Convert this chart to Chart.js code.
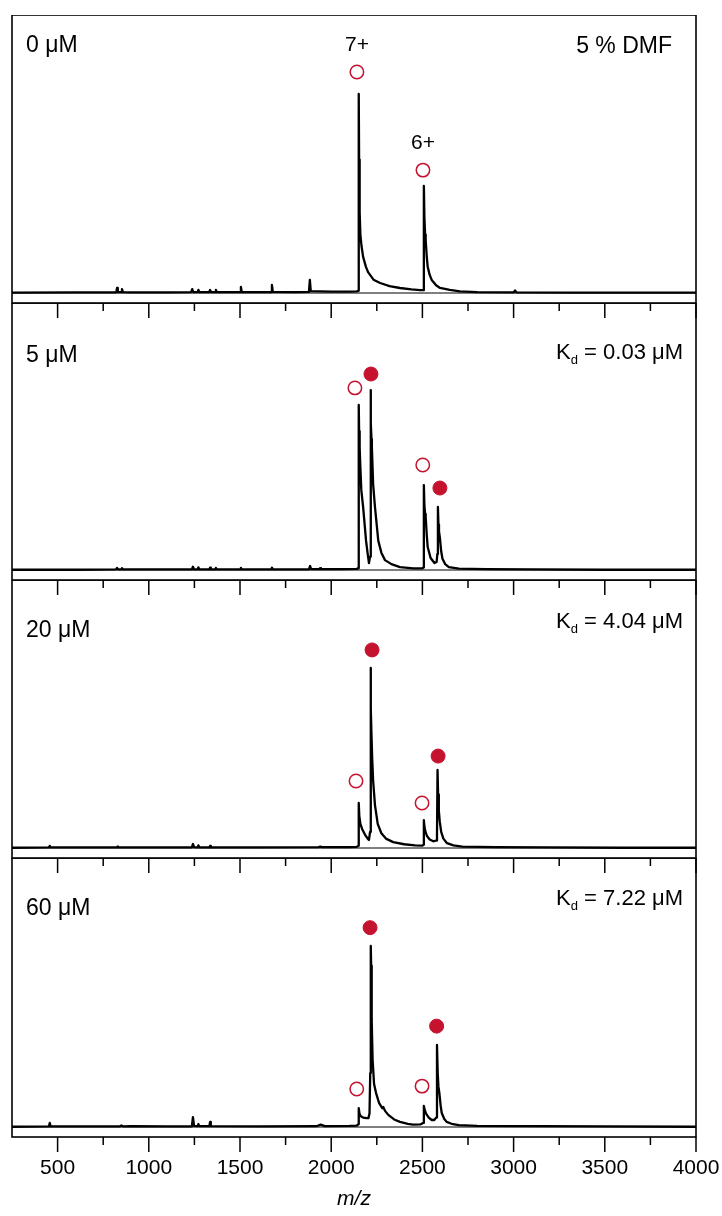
<!DOCTYPE html>
<html><head><meta charset="utf-8">
<script src="https://cdn.jsdelivr.net/npm/chart.js@4.4.1/dist/chart.umd.min.js"></script>
<style>
html,body{margin:0;padding:0;background:#fff;}
body{width:722px;height:1216px;position:relative;overflow:hidden;}
.p{position:absolute;left:0;}
canvas{display:block;}
</style></head><body>
<div class="p" id="w0"><canvas id="c0"></canvas></div>
<div class="p" id="w1"><canvas id="c1"></canvas></div>
<div class="p" id="w2"><canvas id="c2"></canvas></div>
<div class="p" id="w3"><canvas id="c3"></canvas></div>
<script>
// ---------------- DATA ----------------
const xMin = 250, xMax = 4000;
const xTicksMajor = [500,1000,1500,2000,2500,3000,3500,4000];
const xTicksMinor = [750,1250,1750,2250,2750,3250,3750];
const xTickLabels = ['500','1000','1500','2000','2500','3000','3500','4000'];
const xTitle = 'm/z';
const concLabels = ['0 μM','5 μM','20 μM','60 μM'];
const kdValues = [null,'0.03','4.04','7.22'];
const solventLabel = '5 % DMF';
const chargeLabels = ['7+','6+'];
const chargeLabelMz = [2141,2503];
const chargeLabelInt = [89.9,54.7];

// panel 1: 0 uM
const mz0  = [250,600,815,822,826,830,848,853,858,900,1100,1232,1238,1244,1268,1272,1276,1330,1336,1342,1364,1368,1372,1500,1505,1510,1670,1675,1680,1800,1878,1883,1888,2000,2100,2140,2148,2151,2153,2156,2160,2166,2175,2190,2202,2232,2268,2320,2377,2440,2487,2504,2508,2511,2515,2518,2524,2529,2540,2551,2575,2597,2650,2706,2800,3000,3008,3016,3300,3600,4000];
const int0 = [0.1,0.2,0.2,0.3,1.8,0.3,0.3,1.4,0.3,0.2,0.2,0.3,1.4,0.3,0.3,1.1,0.3,0.3,1.1,0.3,0.3,1.1,0.3,0.3,2.2,0.3,0.3,2.9,0.4,0.3,0.4,4.7,0.7,0.5,0.5,0.6,0.8,71.6,48,29,21,17,13,9.5,7.5,4.8,3.6,2.5,1.8,1.3,1.0,1.0,38.5,27,21,19,13,9.4,6.5,4.7,2.8,1.8,1.1,0.6,0.3,0.2,0.9,0.2,0.1,0.1,0.1];
const apoMz0 = [2141,2503];
const apoInt0 = [79.5,44.2];
const boundMz0 = [];
const boundInt0 = [];

// panel 2: 5 uM
const mz1  = [250,600,820,826,832,848,853,858,1000,1236,1242,1248,1268,1272,1276,1332,1336,1340,1364,1368,1372,1500,1505,1510,1670,1675,1680,1878,1884,1890,1935,1939,1944,2050,2140,2148,2151,2153,2156,2159,2165,2175,2191,2200,2207,2213,2216,2218,2221,2223,2230,2240,2258,2275,2295,2330,2377,2450,2500,2505,2508,2511,2515,2518,2524,2529,2545,2566,2578,2582,2585,2588,2591,2596,2603,2610,2625,2645,2700,2850,3100,3500,4000];
const int1 = [0.1,0.1,0.2,0.8,0.2,0.2,0.7,0.2,0.2,0.2,1.2,0.2,0.2,1.0,0.2,0.2,0.9,0.2,0.2,0.8,0.2,0.2,0.8,0.2,0.2,0.9,0.2,0.2,1.5,0.3,0.3,0.7,0.3,0.3,0.4,0.7,61.8,52,46,40,30,23.6,11,6,2.6,5,67.4,55,49,46,32,23.6,11,6.5,3.7,2.2,1.1,0.6,0.6,0.9,31.8,24,21,19.9,13,8.6,4.5,2.6,3.0,6,23.6,17,14.5,12,7,4.2,2.2,1.1,0.5,0.3,0.2,0.1,0.1];
const apoMz1 = [2130,2502];
const apoInt1 = [68.2,39.3];
const boundMz1 = [2218,2596];
const boundInt1 = [73.4,30.7];

// panel 3: 20 uM
const mz2  = [250,452,457,462,600,825,830,835,1000,1236,1242,1248,1268,1272,1276,1332,1336,1340,1600,1930,1940,1950,2100,2140,2148,2151,2154,2160,2170,2185,2200,2207,2213,2216,2218,2221,2225,2230,2240,2255,2275,2300,2340,2400,2460,2500,2505,2508,2511,2517,2525,2540,2560,2575,2580,2583,2586,2590,2595,2603,2615,2635,2670,2720,2900,3200,3600,4000];
const int2 = [0.1,0.2,0.8,0.2,0.2,0.2,0.6,0.2,0.2,0.2,1.5,0.3,0.2,1.0,0.2,0.2,0.8,0.2,0.2,0.3,0.5,0.3,0.3,0.4,0.8,16.8,12,9,7,5,3.5,3.0,6,67.2,52,42,33,25,16,9,5.5,3.5,2.2,1.4,1.0,0.9,1.2,10.4,8,6,4.5,3.2,2.5,2.8,5,29.1,20,14,10,6,3.5,1.8,1.0,0.5,0.3,0.2,0.1,0.1];
const apoMz2 = [2136,2498];
const apoInt2 = [25.0,16.8];
const boundMz2 = [2224,2586];
const boundInt2 = [73.9,34.3];

// panel 4: 60 uM
const mz3  = [250,452,457,462,600,840,850,860,900,1100,1236,1242,1248,1268,1272,1276,1332,1336,1340,1600,1920,1942,1965,2100,2140,2148,2151,2155,2162,2175,2195,2204,2210,2214,2217,2219,2222,2227,2235,2246,2262,2280,2286,2295,2313,2345,2377,2420,2449,2490,2504,2508,2512,2520,2535,2551,2565,2575,2580,2584,2588,2593,2600,2606,2620,2633,2660,2700,2800,3150,3500,4000];
const int3 = [0.1,0.2,1.5,0.2,0.2,0.2,0.6,0.2,0.3,0.2,0.2,3.7,0.4,0.3,1.1,0.3,0.3,1.9,0.3,0.2,0.3,0.9,0.3,0.4,0.5,1.0,7.0,5,4,3.5,3.3,3.3,5,20,67.3,60,40,25,16,12.6,9,7,7.4,6,4.5,2.8,1.9,1.2,0.9,1.0,1.5,7.8,6.5,5,3.5,2.6,2.6,3.5,30.5,20,15,12.6,8,5.2,3,1.9,1.2,0.7,0.4,0.3,0.2,0.1];
const apoMz3 = [2140,2498];
const apoInt3 = [14.1,15.2];
const boundMz3 = [2213,2578];
const boundInt3 = [74.1,37.5];

const spectraMz = [mz0,mz1,mz2,mz3];
const spectraInt = [int0,int1,int2,int3];
const apoMz = [apoMz0,apoMz1,apoMz2,apoMz3];
const apoInt = [apoInt0,apoInt1,apoInt2,apoInt3];
const boundMz = [boundMz0,boundMz1,boundMz2,boundMz3];
const boundInt = [boundInt0,boundInt1,boundInt2,boundInt3];

// ---------------- LAYOUT ----------------
const PANEL_TOP = [15,303,580,858];
const PANEL_BOTTOM = [303,580,858,1137];
const ZERO_GAP = 10;
const PLOT_LEFT = 12, PLOT_RIGHT = 696;
const EXTRA = [16,16,16,1216-1137];
const LEFT_LABEL_BASE = [52,362,637,915];
const RIGHT_LABEL_BASE = [53,359,628,905];
const RED = '#c4122f';
const FONT = '"Liberation Sans", Arial, Helvetica, sans-serif';

function pts(xs, ys){ return xs.map((x,k)=>({x:x, y:ys[k]})); }

function makeDeco(i){
  return {
    id: 'deco'+i,
    afterDraw(chart){
      const ctx = chart.ctx, a = chart.chartArea;
      const xs = chart.scales.x, ys = chart.scales.y;
      const top = PANEL_TOP[i];
      ctx.save();
      ctx.strokeStyle = '#000';
      ctx.lineWidth = 1.2;
      const y0 = ys.getPixelForValue(0);
      ctx.beginPath(); ctx.moveTo(a.left, y0); ctx.lineTo(a.right, y0); ctx.stroke();
      ctx.lineWidth = 1.6;
      ctx.strokeRect(a.left, a.top, a.right - a.left, a.bottom - a.top);
      ctx.lineWidth = 1.5;
      xTicksMajor.forEach(v=>{
        const px = xs.getPixelForValue(v);
        ctx.beginPath(); ctx.moveTo(px, a.bottom); ctx.lineTo(px, a.bottom+15); ctx.stroke();
      });
      xTicksMinor.forEach(v=>{
        const px = xs.getPixelForValue(v);
        ctx.beginPath(); ctx.moveTo(px, a.bottom); ctx.lineTo(px, a.bottom+8); ctx.stroke();
      });
      ctx.fillStyle = '#000';
      ctx.font = '23px ' + FONT;
      ctx.textAlign = 'left'; ctx.textBaseline = 'alphabetic';
      ctx.fillText(concLabels[i], 26, LEFT_LABEL_BASE[i] - top);
      if (i === 0) {
        ctx.textAlign = 'right';
        ctx.fillText(solventLabel, 672, RIGHT_LABEL_BASE[i] - top);
        ctx.font = '21px ' + FONT;
        ctx.textAlign = 'center';
        chargeLabels.forEach((t,k)=>{
          ctx.fillText(t, xs.getPixelForValue(chargeLabelMz[k]), ys.getPixelForValue(chargeLabelInt[k]) + 8);
        });
      } else {
        const rest = ' = ' + kdValues[i] + ' μM';
        ctx.font = '22px ' + FONT;
        const wK = ctx.measureText('K').width;
        const wR = ctx.measureText(rest).width;
        ctx.font = '13px ' + FONT;
        const wd = ctx.measureText('d').width;
        const x0 = 683 - (wK + wd + wR);
        const yb = RIGHT_LABEL_BASE[i] - top;
        ctx.textAlign = 'left';
        ctx.font = '22px ' + FONT;
        ctx.fillText('K', x0, yb);
        ctx.font = '13px ' + FONT;
        ctx.fillText('d', x0 + wK, yb + 5);
        ctx.font = '22px ' + FONT;
        ctx.fillText(rest, x0 + wK + wd, yb);
      }
      if (i === 3) {
        ctx.font = '21px ' + FONT;
        ctx.textAlign = 'center'; ctx.textBaseline = 'middle';
        xTicksMajor.forEach((v,k)=>{
          ctx.fillText(xTickLabels[k], xs.getPixelForValue(v), 1168 - top);
        });
        ctx.font = 'italic 21px ' + FONT;
        ctx.fillText(xTitle, (a.left + a.right)/2, 1199 - top);
      }
      ctx.restore();
    }
  };
}

for (let i = 0; i < 4; i++) {
  const H = PANEL_BOTTOM[i] - PANEL_TOP[i];
  const range = H - ZERO_GAP;
  const yMinVal = -ZERO_GAP / range * 100;
  const wrap = document.getElementById('w'+i);
  wrap.style.top = PANEL_TOP[i] + 'px';
  const cv = document.getElementById('c'+i);
  cv.width = 722; cv.height = H + EXTRA[i];
  cv.style.width = '722px'; cv.style.height = (H + EXTRA[i]) + 'px';
  new Chart(cv, {
    type: 'line',
    data: {
      datasets: [
        { data: pts(spectraMz[i], spectraInt[i]), borderColor: '#000', borderWidth: 2.3, borderJoinStyle: 'round', borderCapStyle: 'round', pointRadius: 0, tension: 0, fill: false, order: 2 },
        { data: pts(apoMz[i], apoInt[i]), showLine: false, pointRadius: 6.7, pointStyle: 'circle', backgroundColor: '#fff', borderColor: RED, borderWidth: 1.5, order: 1 },
        { data: pts(boundMz[i], boundInt[i]), showLine: false, pointRadius: 7, pointStyle: 'circle', backgroundColor: RED, borderColor: RED, borderWidth: 1, order: 1 }
      ]
    },
    options: {
      responsive: false,
      animation: false,
      devicePixelRatio: 1,
      layout: { autoPadding: false, padding: { left: PLOT_LEFT, right: 722 - PLOT_RIGHT, top: 0, bottom: EXTRA[i] } },
      plugins: { legend: { display: false }, tooltip: { enabled: false } },
      elements: { point: { hoverRadius: 0 } },
      scales: {
        x: { type: 'linear', min: xMin, max: xMax, display: false },
        y: { type: 'linear', min: yMinVal, max: 100, display: false }
      }
    },
    plugins: [makeDeco(i)]
  });
}
</script>
</body></html>
